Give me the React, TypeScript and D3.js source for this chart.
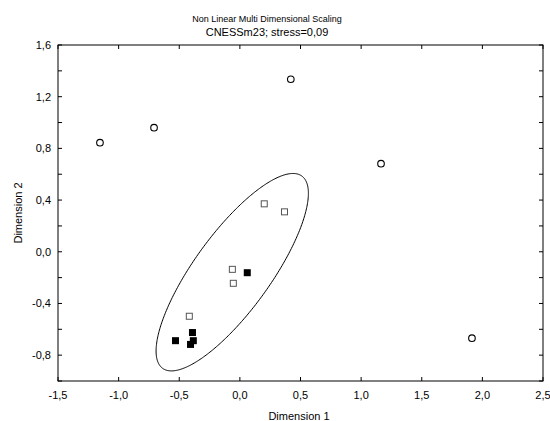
import React from "react";
import * as d3 from "d3";

const circleDim1 = [-1.154, -0.708, 0.42, 1.164, 1.914];
const circleDim2 = [0.844, 0.96, 1.335, 0.682, -0.669];

const openSqDim1 = [0.201, 0.368, -0.062, -0.054, -0.417];
const openSqDim2 = [0.371, 0.309, -0.136, -0.244, -0.499];

const filledSqDim1 = [0.061, -0.391, -0.531, -0.384, -0.407];
const filledSqDim2 = [-0.162, -0.625, -0.688, -0.688, -0.717];

// ellipse: center and two conjugate semi-axis vectors (data units)
const ellipseCenter = [-0.063, -0.158];
const ellipseAxis1 = [0.574, 0.744];
const ellipseAxis2 = [0.255, -0.173];

const xTicks = [-1.5, -1.0, -0.5, 0.0, 0.5, 1.0, 1.5, 2.0, 2.5];
const yTicks = [-1.0, -0.8, -0.6, -0.4, -0.2, 0.0, 0.2, 0.4, 0.6, 0.8, 1.0, 1.2, 1.4, 1.6];
const yLabelTicks = [-0.8, -0.4, 0.0, 0.4, 0.8, 1.2, 1.6];

const title1 = "Non Linear Multi Dimensional Scaling";
const title2 = "CNESSm23; stress=0,09";
const xTitle = "Dimension 1";
const yTitle = "Dimension 2";

const W = 550;
const H = 421;
const L = 58, R = 543, T = 45, B = 381;

const fmt = (v: number) => v.toFixed(1).replace(".", ",");

export default function App() {
  const x = d3.scaleLinear().domain([-1.5, 2.5]).range([L, R]);
  const y = d3.scaleLinear().domain([-1.0, 1.6]).range([B, T]);

  const ts = d3.range(0, 361).map((d) => (d * Math.PI) / 180);
  const ellipsePts: [number, number][] = ts.map((t) => [
    x(ellipseCenter[0] + ellipseAxis1[0] * Math.cos(t) + ellipseAxis2[0] * Math.sin(t)),
    y(ellipseCenter[1] + ellipseAxis1[1] * Math.cos(t) + ellipseAxis2[1] * Math.sin(t)),
  ]);
  const ellipsePath = d3.line().curve(d3.curveLinearClosed)(ellipsePts) || "";

  const font = "Arial, 'Liberation Sans', sans-serif";
  const tk = 4;
  const sq = 6;
  const fsq = 7;

  return (
    <svg width={W} height={H} style={{ position: "absolute", left: 0, top: 0, background: "#fff" }} fontFamily={font}>
      <text x={267} y={22} fontSize={9} textAnchor="middle" fill="#000">{title1}</text>
      <text x={267} y={36} fontSize={11} textAnchor="middle" fill="#000">{title2}</text>

      {/* x ticks */}
      {xTicks.map((v) => (
        <g key={"x" + v}>
          <line x1={x(v)} x2={x(v)} y1={B} y2={B - tk} stroke="#000" />
          <line x1={x(v)} x2={x(v)} y1={T} y2={T + tk} stroke="#000" />
          <text x={x(v)} y={399} fontSize={11} textAnchor="middle" fill="#000">{fmt(v)}</text>
        </g>
      ))}
      {yTicks.map((v) => (
        <g key={"y" + v}>
          <line x1={L} x2={L + tk} y1={y(v)} y2={y(v)} stroke="#000" />
          <line x1={R} x2={R - tk} y1={y(v)} y2={y(v)} stroke="#000" />
        </g>
      ))}
      {yLabelTicks.map((v) => (
        <text key={"yl" + v} x={51} y={y(v) + 4} fontSize={11} textAnchor="end" fill="#000">{fmt(v)}</text>
      ))}

      <text x={299} y={420} fontSize={11} textAnchor="middle" fill="#000">{xTitle}</text>
      <text transform={`translate(22,213) rotate(-90)`} fontSize={11} textAnchor="middle" fill="#000">{yTitle}</text>

      <path d={ellipsePath} fill="none" stroke="#000" strokeWidth={1} />

      {circleDim1.map((v, i) => (
        <circle key={"c" + i} cx={x(v)} cy={y(circleDim2[i])} r={3.3} fill="#fff" stroke="#000" strokeWidth={1.1} />
      ))}
      {openSqDim1.map((v, i) => (
        <rect key={"o" + i} x={x(v) - sq / 2} y={y(openSqDim2[i]) - sq / 2} width={sq} height={sq} fill="#fff" stroke="#555" strokeWidth={1} />
      ))}
      {filledSqDim1.map((v, i) => (
        <rect key={"f" + i} x={x(v) - fsq / 2} y={y(filledSqDim2[i]) - fsq / 2} width={fsq} height={fsq} fill="#000" />
      ))}

      <rect x={L} y={T} width={R - L} height={B - T} fill="none" stroke="#000" strokeWidth={1} />
    </svg>
  );
}
